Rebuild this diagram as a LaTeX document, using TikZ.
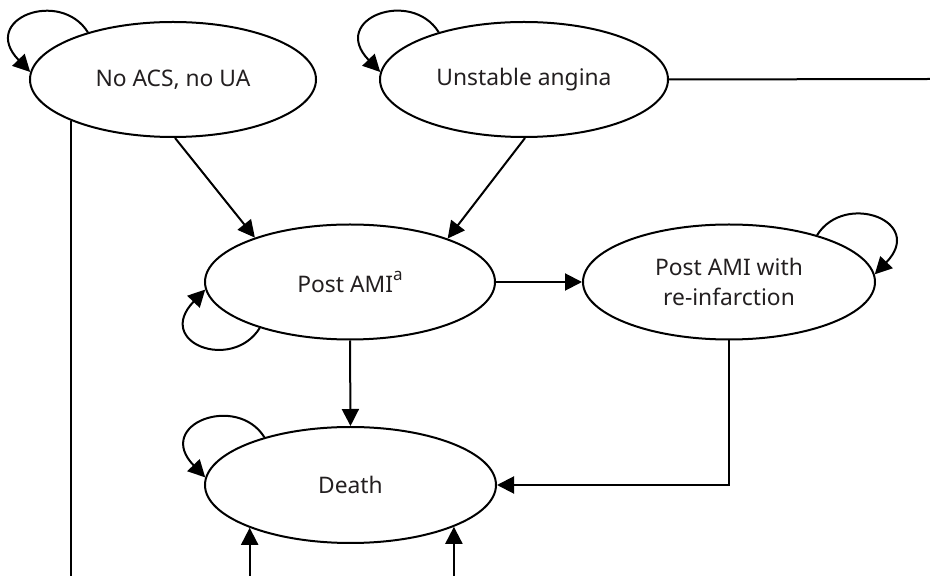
\documentclass[tikz,border=0pt]{standalone}
\usepackage{fontspec}
\setmainfont{Noto Sans}
\usetikzlibrary{arrows.meta,shapes.geometric}
\definecolor{txt}{HTML}{231F20}
\begin{document}
\begin{tikzpicture}[x=1pt,y=1pt,
  state/.style={draw, ellipse, line width=2pt, inner sep=0pt, text=txt,
    font=\fontsize{22.8}{30}\selectfont, align=center},
  conn/.style={line width=2pt},
  arr/.style={conn, -{Triangle[length=17pt,width=17pt]}},
  ]
\useasboundingbox (0,0) rectangle (930,576);
\node[state, minimum width=286pt, minimum height=115pt] (noacs) at (173,496.5) {No ACS, no UA};
\node[state, minimum width=288pt, minimum height=115pt] (unst) at (524,496.5) {Unstable angina};
\node[state, minimum width=290pt, minimum height=115pt] (postami) at (350,294) {Post AMI\raisebox{0.55em}{\fontsize{17}{17}\selectfont a}};
\node[state, minimum width=292pt, minimum height=115pt] (reinf) at (729,294) {Post AMI with\\re-infarction};
\node[state, minimum width=291pt, minimum height=116pt] (death) at (350.5,91) {Death};
\coordinate (bot) at (0,0);
\coordinate (rend) at (930,497);
% connectors
\draw[arr] (noacs.-88) -- (postami.155.3);
\draw[arr] (unst.-89) -- (postami.24.2);
\draw[arr] (postami.east) -- (reinf.west);
\draw[arr] (postami.south) -- (death.north);
\draw[arr] (reinf.south) |- (death.east);
\draw[conn] (noacs.-158) -- (noacs.-158 |- bot);
\draw[conn] (unst.east) -- (rend);
\draw[arr] (death.-157.7 |- bot) -- (death.-157.7);
\draw[arr] (death.-22.3 |- bot) -- (death.-22.3);
% self loops
\draw[arr] (noacs.151.4) to[out=122,in=134,out distance=52pt,in distance=74pt] (noacs.177);
\draw[arr] (unst.151.4) to[out=122,in=134,out distance=52pt,in distance=74pt] (unst.177);
\draw[arr] (death.151.6) to[out=122,in=134,out distance=52pt,in distance=74pt] (death.177);
\draw[arr] (postami.-153) to[out=-122,in=-134,out distance=52pt,in distance=74pt] (postami.-177.6);
\draw[arr] (reinf.28) to[out=58,in=46,out distance=52pt,in distance=74pt] (reinf.3);
\end{tikzpicture}
\end{document}
